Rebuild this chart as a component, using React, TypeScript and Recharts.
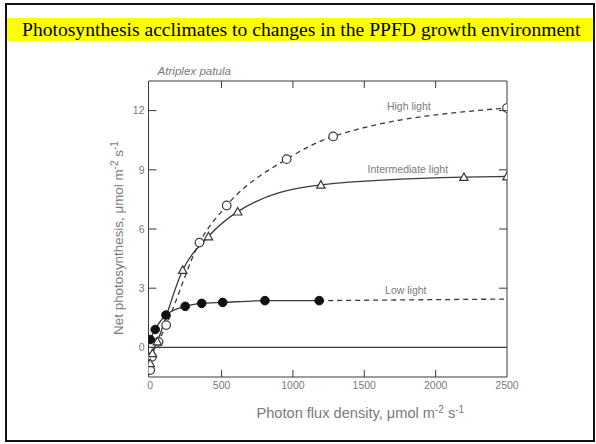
import React from "react";
import {
  ComposedChart,
  Line,
  XAxis,
  YAxis,
  ReferenceLine,
  ReferenceDot,
  Label,
} from "recharts";

// values (PPFD, net photosynthesis)
const highLight = [
  { x: 0, y: -1.15 },
  { x: 12, y: -0.48 },
  { x: 58, y: 0.28 },
  { x: 112, y: 1.13 },
  { x: 345, y: 5.31 },
  { x: 536, y: 7.19 },
  { x: 956, y: 9.54 },
  { x: 1282, y: 10.69 },
  { x: 2500, y: 12.13 },
];

const intermediateLight = [
  { x: 0, y: -0.8 },
  { x: 15, y: -0.3 },
  { x: 50, y: 0.3 },
  { x: 228, y: 3.92 },
  { x: 408, y: 5.62 },
  { x: 613, y: 6.88 },
  { x: 1196, y: 8.24 },
  { x: 2198, y: 8.63 },
  { x: 2500, y: 8.66 },
];

const lowLight = [
  { x: 0, y: 0.4 },
  { x: 35, y: 0.91 },
  { x: 110, y: 1.64 },
  { x: 245, y: 2.08 },
  { x: 361, y: 2.23 },
  { x: 508, y: 2.28 },
  { x: 804, y: 2.37 },
  { x: 1184, y: 2.37 },
];

const lowLightExtension = [
  { x: 1184, y: 2.37 },
  { x: 2500, y: 2.45 },
];

const xTicks = [0, 500, 1000, 1500, 2000, 2500];
const yTicks = [0, 3, 6, 9, 12];

const curveLabels = [
  { text: "High light", x: 1812, y: 12.23 },
  { text: "Intermediate light", x: 1805, y: 9.02 },
  { text: "Low light", x: 1791, y: 2.92 },
];

const X_DOMAIN = [-12, 2500];
const Y_DOMAIN = [-1.5, 13.5];

const INK = "#3a3a3a";
const TEXT = "#7a7a7a";
const FONT = "'Liberation Sans', Arial, sans-serif";

const OpenCircle = (props: any) => {
  const { cx, cy, index } = props;
  if (cx == null || cy == null) return null;
  return <circle key={index} cx={cx} cy={cy} r={4.3} fill="#fff" stroke={INK} strokeWidth={1.2} />;
};

const FilledCircle = (props: any) => {
  const { cx, cy, index } = props;
  if (cx == null || cy == null) return null;
  return <circle key={index} cx={cx} cy={cy} r={4.3} fill="#111" stroke="#111" strokeWidth={1} />;
};

const OpenTriangle = (props: any) => {
  const { cx, cy, index } = props;
  if (cx == null || cy == null) return null;
  const s = 4.2;
  const pts = `${cx},${cy - s} ${cx + s},${cy + s * 0.8} ${cx - s},${cy + s * 0.8}`;
  return <polygon key={index} points={pts} fill="#fff" stroke={INK} strokeWidth={1.2} />;
};

// ticks point into the plot; the label sits outside
const BottomTick = (props: any) => {
  const { x, y, payload } = props;
  const axisY = y - 4;
  return (
    <g>
      {payload.value > 0 && payload.value < 2500 && (
        <line x1={x} y1={axisY} x2={x} y2={axisY - 7} stroke={INK} strokeWidth={1} />
      )}
      <text x={x} y={y} dy="0.75em" textAnchor="middle" fill={TEXT} fontSize={10.5} fontFamily={FONT}>
        {payload.value}
      </text>
    </g>
  );
};

const LeftTick = (props: any) => {
  const { x, y, payload } = props;
  const axisX = x + 4;
  return (
    <g>
      {payload.value !== 0 && (
        <line x1={axisX} y1={y} x2={axisX + 8} y2={y} stroke={INK} strokeWidth={1} />
      )}
      <text x={x} y={y} dy="0.36em" textAnchor="end" fill={TEXT} fontSize={10.5} fontFamily={FONT}>
        {payload.value}
      </text>
    </g>
  );
};

const TopTick = (props: any) => {
  const { x, y, payload } = props;
  if (payload.value <= 0 || payload.value >= 2500) return <g />;
  return <line x1={x} y1={y} x2={x} y2={y + 7} stroke={INK} strokeWidth={1} />;
};

const RightTick = (props: any) => {
  const { x, y, payload } = props;
  if (payload.value === 0) return <g />;
  return <line x1={x} y1={y} x2={x - 8} y2={y} stroke={INK} strokeWidth={1} />;
};

const XTitle = (props: any) => {
  const vb = props.viewBox;
  return (
    <text x={vb.x + 108} y={vb.y + 41} fill={TEXT} fontSize={14.6} fontFamily={FONT}>
      Photon flux density, μmol m
      <tspan dy={-5} fontSize={10}>-2</tspan>
      <tspan dy={5}> s</tspan>
      <tspan dy={-5} fontSize={10}>-1</tspan>
    </text>
  );
};

const YTitle = (props: any) => {
  const vb = props.viewBox;
  const cx = vb.x + vb.width - 26;
  const cy = 238;
  return (
    <text
      x={cx}
      y={cy}
      transform={`rotate(-90 ${cx} ${cy})`}
      textAnchor="middle"
      fill={TEXT}
      fontSize={13.4}
      fontFamily={FONT}
    >
      Net photosynthesis, μmol m
      <tspan dy={-5} fontSize={10}>-2</tspan>
      <tspan dy={5}> s</tspan>
      <tspan dy={-5} fontSize={10}>-1</tspan>
    </text>
  );
};

const SpeciesTitle = (props: any) => {
  const vb = props.viewBox;
  return (
    <text x={vb.x + 9} y={vb.y + vb.height - 6} fill={TEXT} fontSize={11.6} fontStyle="italic" fontFamily={FONT}>
      Atriplex patula
    </text>
  );
};

export default function App() {
  return (
    <div
      style={{
        position: "absolute",
        left: 0,
        top: 0,
        width: 596,
        height: 444,
        background: "#fff",
        overflow: "hidden",
      }}
    >
      <div
        style={{
          position: "absolute",
          left: 5,
          top: 3,
          width: 590,
          height: 439,
          boxSizing: "border-box",
          border: "2px solid #111",
        }}
      />
      <div
        style={{
          position: "absolute",
          left: 7,
          top: 18,
          width: 586,
          height: 23,
          background: "#ffff00",
          fontFamily: "'Liberation Serif', 'Times New Roman', serif",
          fontSize: 19.6,
          lineHeight: "23px",
          color: "#000",
          paddingLeft: 15,
          boxSizing: "border-box",
          whiteSpace: "nowrap",
        }}
      >
        Photosynthesis acclimates to changes in the PPFD growth environment
      </div>
      <div style={{ position: "absolute", left: 0, top: 0 }}>
        <ComposedChart
          width={596}
          height={444}
          margin={{ top: 61, right: 69, bottom: 27, left: 108.5 }}
        >
          <XAxis
            xAxisId="b"
            type="number"
            dataKey="x"
            domain={X_DOMAIN}
            ticks={xTicks}
            orientation="bottom"
            height={40}
            stroke={INK}
            tickLine={false}
            tickSize={0}
            tickMargin={4}
            tick={<BottomTick />}
            allowDataOverflow
          >
            <Label content={<XTitle />} />
          </XAxis>
          <XAxis
            xAxisId="t"
            type="number"
            dataKey="x"
            domain={X_DOMAIN}
            ticks={xTicks}
            orientation="top"
            height={20}
            stroke={INK}
            tickLine={false}
            tickSize={0}
            tickMargin={0}
            tick={<TopTick />}
            allowDataOverflow
          >
            <Label content={<SpeciesTitle />} />
          </XAxis>
          <YAxis
            yAxisId="l"
            type="number"
            domain={Y_DOMAIN}
            ticks={yTicks}
            orientation="left"
            width={40}
            stroke={INK}
            tickLine={false}
            tickSize={0}
            tickMargin={4}
            tick={<LeftTick />}
            allowDataOverflow
          >
            <Label content={<YTitle />} />
          </YAxis>
          <YAxis
            yAxisId="r"
            type="number"
            domain={Y_DOMAIN}
            ticks={yTicks}
            orientation="right"
            width={20}
            stroke={INK}
            tickLine={false}
            tickSize={0}
            tickMargin={0}
            tick={<RightTick />}
            allowDataOverflow
          />
          <ReferenceLine xAxisId="b" yAxisId="l" y={0} stroke={INK} strokeWidth={1.2} />
          {/* same domains on top/right axes, so this series lands in the same place */}
          <Line
            xAxisId="t"
            yAxisId="r"
            data={highLight}
            dataKey="y"
            type="monotone"
            stroke={INK}
            strokeWidth={1.3}
            strokeDasharray="5 4"
            dot={<OpenCircle />}
            isAnimationActive={false}
          />
          <Line
            xAxisId="b"
            yAxisId="l"
            data={intermediateLight}
            dataKey="y"
            type="monotone"
            stroke={INK}
            strokeWidth={1.3}
            dot={<OpenTriangle />}
            isAnimationActive={false}
          />
          <Line
            xAxisId="b"
            yAxisId="l"
            data={lowLightExtension}
            dataKey="y"
            type="linear"
            stroke={INK}
            strokeWidth={1.3}
            strokeDasharray="5 4"
            dot={false}
            isAnimationActive={false}
          />
          <Line
            xAxisId="b"
            yAxisId="l"
            data={lowLight}
            dataKey="y"
            type="monotone"
            stroke={INK}
            strokeWidth={1.3}
            dot={<FilledCircle />}
            isAnimationActive={false}
          />
          {curveLabels.map((c) => (
            <ReferenceDot
              key={c.text}
              xAxisId="b"
              yAxisId="l"
              x={c.x}
              y={c.y}
              r={0}
              fill="none"
              stroke="none"
              label={{ value: c.text, position: "center", fill: TEXT, fontSize: 10.5, fontFamily: FONT }}
            />
          ))}
        </ComposedChart>
      </div>
    </div>
  );
}
